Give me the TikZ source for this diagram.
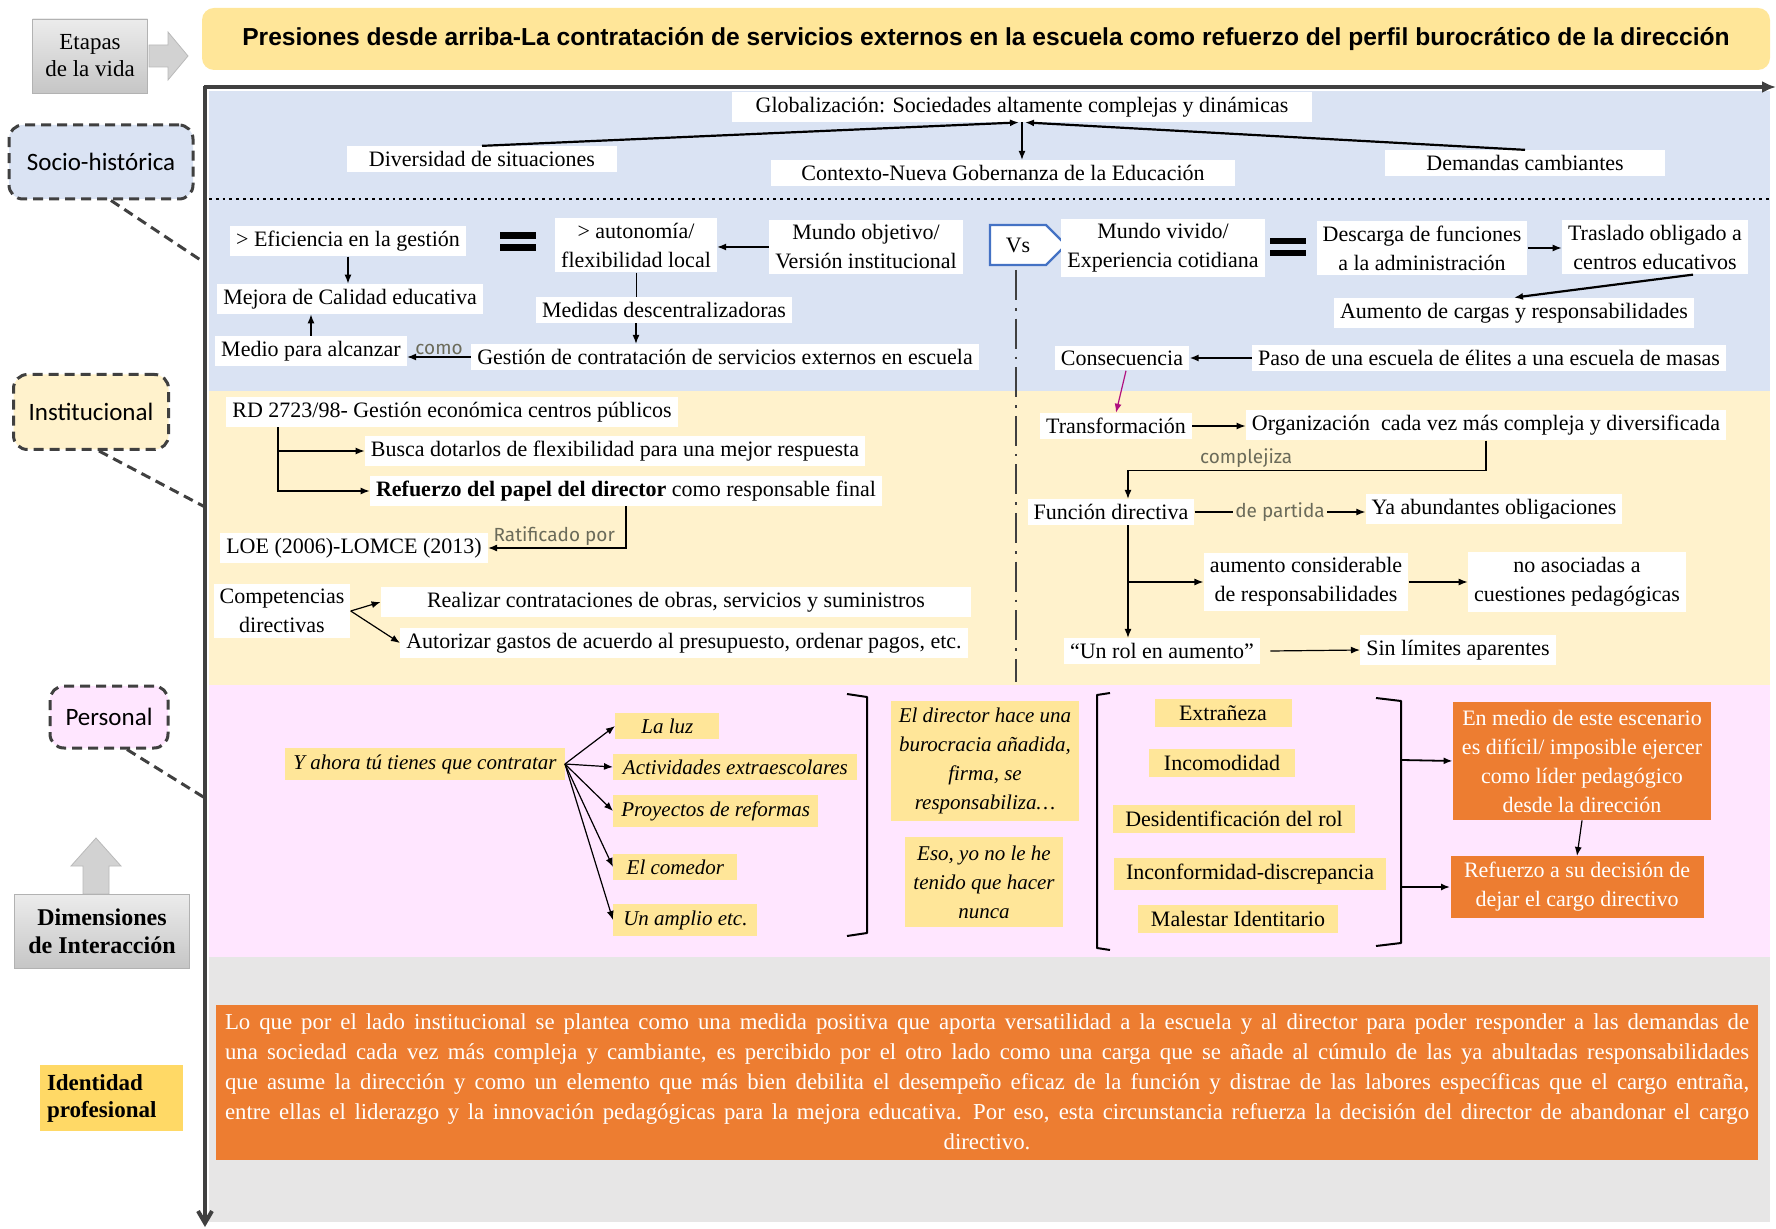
\documentclass[tikz,border=0pt]{standalone}
\usepackage{fontspec}
\setmainfont{Liberation Serif}
\newfontfamily\rotulofont{Carlito}
\newfontfamily\titulofont{Liberation Sans}
\newfontfamily\manofont{Fira Sans}
\usetikzlibrary{arrows.meta,shapes.symbols}

\definecolor{bandaazul}{HTML}{DAE3F3}
\definecolor{bandaamarilla}{HTML}{FFF2CC}
\definecolor{bandarosa}{HTML}{FFE6FF}
\definecolor{bandagris}{HTML}{E7E6E6}
\definecolor{oro}{HTML}{FFE699}
\definecolor{oroscuro}{HTML}{FFD966}
\definecolor{naranja}{HTML}{ED7D31}
\definecolor{azulvs}{HTML}{4472C4}
\definecolor{eje}{HTML}{404040}
\definecolor{lapiz}{HTML}{6B6B5A}
\definecolor{fucsia}{HTML}{B0107F}

\newcommand{\renglon}[1]{\leavevmode{\spaceskip=0.25em plus 0.5em minus 0.05em\hbox to 762pt{#1}}}

\tikzset{
  caja/.style={fill=white, inner xsep=3pt, inner ysep=2.5pt, align=center, font=\fontsize{11}{14.5}\selectfont},
  nota/.style={fill=oro, inner xsep=4pt, inner ysep=3pt, align=center, font=\fontsize{10.5}{14.5}\selectfont\itshape},
  sentir/.style={fill=oro, inner xsep=6pt, inner ysep=3pt, font=\fontsize{11}{14.5}\selectfont},
  salida/.style={fill=naranja, text=white, inner sep=3pt, align=center, font=\fontsize{11}{14.5}\selectfont},
  dimension/.style={draw=eje, dash pattern=on 5pt off 3pt, line width=1.5pt, rounded corners=7pt, font=\rotulofont\fontsize{12.5}{15}\selectfont},
  gradiente/.style={draw=gray!60, top color=gray!15, bottom color=gray!45, align=center},
  guion/.style={draw=eje, dash pattern=on 5pt off 3pt, line width=1.5pt},
  flecha/.style={-{Latex[length=4.5pt,width=3.5pt]}, line width=0.6pt},
  flechagruesa/.style={flecha, line width=1.1pt},
  mano/.style={font=\manofont\fontsize{9.5}{11}\selectfont, text=lapiz, inner sep=1pt},
  corchete/.style={line width=1pt, line join=round}
}

\begin{document}
\begin{tikzpicture}[x=0.5pt,y=-0.5pt]
\useasboundingbox (0,0) rectangle (1776,1229);
\fill[bandaazul] (209,91) rectangle (1770,391);
\fill[bandaamarilla] (209,391) rectangle (1770,685);
\fill[bandarosa] (209,685) rectangle (1770,957);
\fill[bandagris] (209,957) rectangle (1770,1222);
\draw[eje, line width=2pt, -{Latex[length=7pt,width=6pt]}] (204,87) -- (1776,87);
\draw[eje, line width=2pt, -{Straight Barb[length=6pt,width=7pt]}] (205,86) -- (205,1227);
\draw[line width=1.4pt, dotted] (209,199) -- (1770,199);
\draw[eje, line width=1.3pt, dash pattern=on 15pt off 4pt on 1.3pt off 4pt] (1016,270) -- (1016,682);

\node[fill=oro, rounded corners=6pt, minimum width=784pt, minimum height=31pt, font=\titulofont\bfseries\fontsize{12.3}{14}\selectfont] (titulo) at (986,39) {Presiones desde arriba-La contratación de servicios externos en la escuela como refuerzo del perfil burocrático de la dirección};
\node[gradiente, minimum width=57.5pt, minimum height=37pt, font=\fontsize{11.5}{13.5}\selectfont] (etapas) at (90,56) {Etapas\\de la vida};
\fill[gray!35, draw=gray!55] (149,45) -- (168,45) -- (168,32) -- (188,56) -- (168,80) -- (168,67) -- (149,67) -- cycle;
\node[dimension, fill=bandaazul, minimum width=92pt, minimum height=37pt] (soc) at (101,162) {Socio-histórica};
\node[dimension, fill=bandaamarilla, minimum width=77.5pt, minimum height=37.5pt] (inst) at (91,412) {Institucional};
\node[dimension, fill=bandarosa, minimum width=59pt, minimum height=31pt] (pers) at (109,717) {Personal};
\fill[gray!35, draw=gray!55] (83,894) -- (83,866) -- (71,866) -- (96,838) -- (121,866) -- (109,866) -- (109,894) -- cycle;
\node[gradiente, minimum width=87.5pt, minimum height=37pt, font=\fontsize{12}{14}\selectfont\bfseries] (dimen) at (102,931) {Dimensiones\\de Interacción};
\node[fill=oroscuro, minimum width=71.5pt, minimum height=33pt, text width=64pt, align=left, font=\fontsize{11.5}{13.5}\selectfont\bfseries] (ident) at (111,1098) {Identidad\\profesional};
\coordinate (ejesoc) at (205,263);
\coordinate (ejeinst) at (205,507);
\coordinate (ejepers) at (205,798);
\draw[guion] ([xshift=5pt]soc.south) -- (ejesoc);
\draw[guion] ([xshift=4pt]inst.south) -- (ejeinst);
\draw[guion] ([xshift=9pt]pers.south) -- (ejepers);

\node[caja, minimum width=290pt] (glob) at (1022,107) {Globalización: Sociedades altamente complejas y dinámicas};
\node[caja, minimum width=135pt] (div) at (482,159) {Diversidad de situaciones};
\node[caja, minimum width=232pt] (ctx) at (1003,173) {Contexto-Nueva Gobernanza de la Educación};
\node[caja, minimum width=140pt] (dem) at (1525,163) {Demandas cambiantes};
\draw[flechagruesa] (div.north) -- ([xshift=-1.5pt]glob.south);
\draw[flechagruesa] (dem.north) -- ([xshift=1.5pt]glob.south);
\draw[flecha] (glob.south) -- (glob.south |- ctx.north);

\node[caja] (efi) at (348,241) {> Eficiencia en la gestión};
\fill (500,232) rectangle (536,239);
\fill (500,244) rectangle (536,251);
\node[caja] (aut) at (636,245) {> autonomía/\\flexibilidad local};
\node[caja] (mo) at (866,247) {Mundo objetivo/\\Versión institucional};
\node[caja] (mej) at (350,299) {Mejora de Calidad educativa};
\node[caja] (med) at (311,351) {Medio para alcanzar};
\node[caja] (medd) at (664,310) {Medidas descentralizadoras};
\node[caja] (ges) at (725,357) {Gestión de contratación de servicios externos en escuela};
\draw[flecha] (mo.west) -- (mo.west -| aut.east);
\draw[flecha] (efi.south) -- (efi.south |- mej.north);
\draw[flecha] (med.north) -- (med.north |- mej.south);
\draw (aut.south) -- (aut.south |- medd.north);
\draw[flecha] (aut.south |- medd.south) -- (aut.south |- ges.north);
\draw[flecha] (ges.west) -- node[mano, above] {como} (ges.west -| med.east);

\node[signal, signal to=east, draw=azulvs, line width=1.2pt, fill=white, minimum width=38pt, minimum height=20pt, font=\fontsize{11}{13}\selectfont] (vs) at (1018,245) {Vs};
\node[caja] (mv) at (1163,248) {Mundo vivido/\\Experiencia cotidiana};
\fill (1270,238) rectangle (1306,244);
\fill (1270,250) rectangle (1306,256);
\node[caja] (desc) at (1422,248) {Descarga de funciones\\a la administración};
\node[caja] (tras) at (1655,247) {Traslado obligado a\\centros educativos};
\node[caja] (aum) at (1514,313) {Aumento de cargas y responsabilidades};
\node[caja] (cons) at (1122,358) {Consecuencia};
\node[caja] (paso) at (1489,358) {Paso de una escuela de élites a una escuela de masas};
\draw[flecha] (desc.east) -- (desc.east -| tras.west);
\draw[flechagruesa] ([xshift=19pt]tras.south) -- (aum.north);
\draw[flechagruesa] (paso.west) -- (cons.east);

\node[caja] (rd) at (452,412) {RD 2723/98- Gestión económica centros públicos};
\node[caja] (busca) at (615,451) {Busca dotarlos de flexibilidad para una mejor respuesta};
\node[caja] (ref) at (626,491) {\textbf{Refuerzo del papel del director} como responsable final};
\node[caja] (loe) at (354,548) {LOE (2006)-LOMCE (2013)};
\node[caja] (comp) at (282,611) {Competencias\\directivas};
\node[caja, minimum width=295pt] (real) at (676,602) {Realizar contrataciones de obras, servicios y suministros};
\node[caja] (autor) at (684,643) {Autorizar gastos de acuerdo al presupuesto, ordenar pagos, etc.};
\draw[flecha] ([xshift=-87pt]rd.south) |- (busca.west);
\draw[flecha] ([xshift=-87pt]rd.south) |- (ref.west);
\draw[flecha] (ref.south) |- node[mano, above, pos=0.76] {Ratificado por} (loe.east);
\draw[flecha] (comp.east) -- (real.west);
\draw[flecha] (comp.east) -- (autor.west);

\node[caja] (trans) at (1116,426) {Transformación};
\node[caja] (org) at (1486,425) {Organización~ cada vez más compleja y diversificada};
\node[caja] (fun) at (1111,512) {Función directiva};
\node[caja] (ya) at (1494,509) {Ya abundantes obligaciones};
\node[caja] (acr) at (1306,582) {aumento considerable\\de responsabilidades};
\node[caja] (noas) at (1577,582) {no asociadas a\\cuestiones pedagógicas};
\node[caja] (rol) at (1162,651) {“Un rol en aumento”};
\node[caja] (sin) at (1458,650) {Sin límites aparentes};
\draw[fucsia, flecha] ([xshift=2pt]cons.south) -- (trans.north);
\draw[flecha] (trans.east) -- (trans.east -| org.west);
\draw[flecha] (org.south) -- ++(0,30) -| node[mano, above, pos=0.335] {complejiza} ([xshift=8.5pt]fun.north);
\draw[flecha] (fun.east) -- node[mano, fill=bandaamarilla] {de partida} (fun.east -| ya.west);
\draw[flecha] ([xshift=8.5pt]fun.south) -- ([xshift=8.5pt]fun.south |- rol.north);
\draw[flecha] ([xshift=8.5pt]fun.south |- acr.west) -- (acr.west);
\draw[flecha] (acr.east) -- (noas.west);
\draw[flecha] ([xshift=5pt]rol.east) -- (sin.west);

\node[nota, minimum width=138pt] (ahora) at (425,764) {Y ahora tú tienes que contratar};
\node[nota, anchor=west, minimum width=52pt] (luz) at (615,726) {La luz};
\node[nota, anchor=west, minimum width=122pt] (act) at (613,767) {Actividades extraescolares};
\node[nota, anchor=west, minimum width=100pt] (proy) at (613,811) {Proyectos de reformas};
\node[nota, anchor=west, minimum width=62pt] (com) at (613,867) {El comedor};
\node[nota, anchor=west, minimum width=72pt] (amp) at (613,920) {Un amplio etc.};
\foreach \destino in {luz,act,proy,com,amp}
\draw[flecha] (ahora.east) -- (\destino.west);
\draw[corchete] (847,694) -- (867,697) -- (867,933) -- (847,936);
\node[nota, minimum width=90pt, minimum height=60pt] (direc) at (985,761) {El director hace una\\burocracia añadida,\\firma, se\\responsabiliza…};
\node[nota, minimum width=75pt, minimum height=45pt] (eso) at (984,882) {Eso, yo no le he\\tenido que hacer\\nunca};
\draw[corchete] (1110,693) -- (1097,695) -- (1097,948) -- (1110,950);
\node[sentir, minimum width=68.5pt] (extr) at (1223,713) {Extrañeza};
\node[sentir, minimum width=73pt] (inco) at (1222,763) {Incomodidad};
\node[sentir, minimum width=117pt] (desi) at (1234,819) {Desidentificación del rol};
\node[sentir, minimum width=136pt, inner xsep=3pt] (inconf) at (1250,874) {Inconformidad-discrepancia};
\node[sentir, minimum width=100pt] (males) at (1238,919) {Malestar Identitario};
\draw[corchete] (1376,698) -- (1401,701) -- (1401,943) -- (1376,946);
\coordinate (cierre1) at (1402,760);
\coordinate (cierre2) at (1402,887);
\node[salida, minimum width=129pt, minimum height=59pt] (sal1) at (1582,761) {En medio de este escenario\\es difícil/ imposible ejercer\\como líder pedagógico\\desde la dirección};
\node[salida, minimum width=126.5pt, minimum height=30pt] (sal2) at (1577,887) {Refuerzo a su decisión de\\dejar el cargo directivo};
\draw[flecha, line width=0.9pt] (cierre1) -- (sal1.west);
\draw[flecha, line width=0.9pt] (cierre2) -- (sal2.west);
\draw[flecha] (sal1.south) -- (sal2.north);

\node[salida, minimum width=771pt, minimum height=77.5pt, text width=762pt, font=\fontsize{11.4}{15}\selectfont] (conclusion) at (987,1082) {\renglon{Lo que por el lado institucional se plantea como una medida positiva que aporta versatilidad a la escuela y al director para poder responder a las demandas de}\\\renglon{una sociedad cada vez más compleja y cambiante, es percibido por el otro lado como una carga que se añade al cúmulo de las ya abultadas responsabilidades}\\\renglon{que asume la dirección y como un elemento que más bien debilita el desempeño eficaz de la función y distrae de las labores específicas que el cargo entraña,}\\\renglon{entre ellas el liderazgo y la innovación pedagógicas para la mejora educativa. Por eso, esta circunstancia refuerza la decisión del director de abandonar el cargo}\\directivo.};
\end{tikzpicture}
\end{document}
